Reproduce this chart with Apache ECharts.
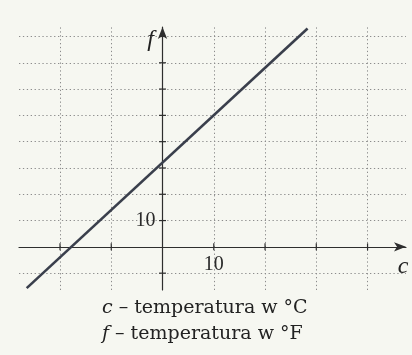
<!DOCTYPE html>
<html>
<head>
<meta charset="utf-8">
<script src="https://cdn.jsdelivr.net/npm/echarts@6/dist/echarts.min.js"></script>
<style>
  html, body { margin: 0; padding: 0; background: #f6f7f1; }
  #chart { width: 412px; height: 355px; }
</style>
</head>
<body>
<div id="chart"></div>
<script>
// Celsius (c) to Fahrenheit (f) conversion line
const lineC = [-26.5, 28.3];
const lineF = [-15.7, 83.0];

// dotted grid positions
const gridC = [-20, -10, 10, 20, 30, 40];
const gridF = [-10, 10, 20, 30, 40, 50, 60, 70, 80];

// labelled ticks
const labelC = [10];
const labelF = [10];

// caption lines
const captionLines = [
  '{i|c} – temperatura w °C',
  '{i|f} – temperatura w °F'
];

const cMin = -28, cMax = 47.5;
const fMin = -16.4, fMax = 83.6;

const serif = '"Liberation Serif", "DejaVu Serif", serif';
const bookSerif = '"DejaVu Serif", "Liberation Serif", serif';
const axisColor = '#2e2e2e';

const chart = echarts.init(document.getElementById('chart'), null, { renderer: 'canvas' });

const gridLine = { type: [1.3, 2.6], color: '#8c8c8c', width: 1 };

chart.setOption({
  backgroundColor: '#f6f7f1',
  animation: false,
  grid: { left: 19, right: 6, top: 27, bottom: 65, containLabel: false, outerBoundsMode: 'none' },
  xAxis: {
    type: 'value',
    min: cMin,
    max: cMax,
    axisLine: {
      onZero: true,
      lineStyle: { color: axisColor, width: 1.2 },
      symbol: ['none', 'arrow'],
      symbolSize: [7, 12]
    },
    axisTick: { show: false },
    axisLabel: { show: false },
    splitLine: { show: false }
  },
  yAxis: {
    type: 'value',
    min: fMin,
    max: fMax,
    axisLine: {
      onZero: true,
      lineStyle: { color: axisColor, width: 1.2 },
      symbol: ['none', 'arrow'],
      symbolSize: [7, 12]
    },
    axisTick: { show: false },
    axisLabel: { show: false },
    splitLine: { show: false }
  },
  series: [
    {
      type: 'line',
      data: [],
      z: 1,
      silent: true,
      markLine: {
        silent: true,
        symbol: ['none', 'none'],
        label: { show: false },
        lineStyle: gridLine,
        data: gridC.map(v => ({ xAxis: v })).concat(gridF.map(v => ({ yAxis: v })))
      }
    },
    {
      type: 'line',
      z: 5,
      symbol: 'none',
      silent: true,
      lineStyle: { color: '#3a3f4c', width: 2.6 },
      data: lineC.map((c, i) => [c, lineF[i]])
    }
  ]
});

// tick marks, tick labels and axis letters positioned from the axis scales
const px = (c, f) => chart.convertToPixel({ gridIndex: 0 }, [c, f]);
const origin = px(0, 0);
const rightEnd = px(cMax, 0);
const topEnd = px(0, fMax);

const graphics = [];
gridC.forEach(v => {
  const p = px(v, 0);
  graphics.push({
    type: 'line', silent: true, z: 10,
    shape: { x1: p[0], y1: p[1] - 3.5, x2: p[0], y2: p[1] + 3.5 },
    style: { stroke: axisColor, lineWidth: 1.2 }
  });
});
gridF.forEach(v => {
  const p = px(0, v);
  graphics.push({
    type: 'line', silent: true, z: 10,
    shape: { x1: p[0] - 3.5, y1: p[1], x2: p[0] + 3.5, y2: p[1] },
    style: { stroke: axisColor, lineWidth: 1.2 }
  });
});
labelC.forEach(v => {
  const p = px(v, 0);
  graphics.push({
    type: 'text', silent: true, z: 10,
    style: {
      text: String(v), x: p[0], y: p[1] + 18,
      font: '20px ' + serif, fill: '#2a2a2a',
      align: 'center', verticalAlign: 'middle'
    }
  });
});
labelF.forEach(v => {
  const p = px(0, v);
  graphics.push({
    type: 'text', silent: true, z: 10,
    style: {
      text: String(v), x: p[0] - 7, y: p[1],
      font: '20px ' + serif, fill: '#2a2a2a',
      align: 'right', verticalAlign: 'middle'
    }
  });
});
graphics.push(
  {
    type: 'text', silent: true,
    style: {
      text: 'f', x: origin[0] - 12, y: topEnd[1] + 13,
      font: 'italic 24px ' + serif, fill: '#222',
      align: 'center', verticalAlign: 'middle'
    }
  },
  {
    type: 'text', silent: true,
    style: {
      text: 'c', x: rightEnd[0] - 3, y: origin[1] + 20,
      font: 'italic 24px ' + serif, fill: '#222',
      align: 'center', verticalAlign: 'middle'
    }
  }
);
captionLines.forEach((t, i) => {
  graphics.push({
    type: 'text', silent: true,
    style: {
      text: t,
      x: 102, y: 308 + i * 26,
      font: '19px ' + bookSerif, fill: '#222',
      align: 'left', verticalAlign: 'middle',
      rich: { i: { fontStyle: 'italic', fontSize: 19, fontFamily: bookSerif } }
    }
  });
});

chart.setOption({ graphic: graphics });
</script>
</body>
</html>
